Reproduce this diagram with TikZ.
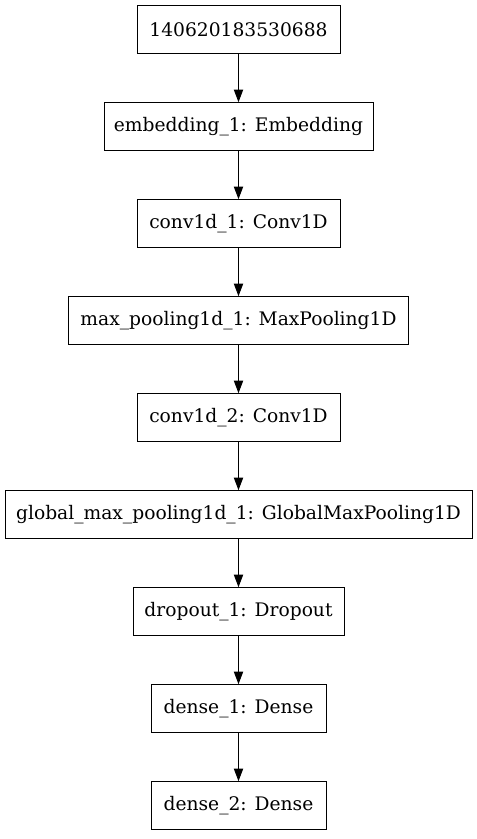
\documentclass[tikz,border=0pt]{standalone}
\usepackage{fontspec}
\setmainfont{DejaVu Serif}
\usetikzlibrary{arrows.meta}
\tikzset{
	layer/.style={draw, line width=0.75pt, minimum height=36pt, inner sep=0pt, font=\fontsize{14pt}{16pt}\selectfont},
	flow/.style={line width=0.75pt, -{Triangle[length=9.5pt,width=7pt]}}
}
\begin{document}
\begin{tikzpicture}[x=0.75pt,y=-0.75pt]
	% Page frame
	\useasboundingbox (0,0) rectangle (477,839);
	
	% Layers, top to bottom
	\node[layer, minimum width=152.25pt] (INPUT) at (238.5,29.7) {140620183530688};
	\node[layer, minimum width=201.75pt] (EMB) at (238.5,126.7) {embedding\_1: Embedding};
	\node[layer, minimum width=152.25pt] (CONVA) at (238.5,223.7) {conv1d\_1: Conv1D};
	\node[layer, minimum width=255pt] (POOL) at (238.5,320.7) {max\_pooling1d\_1: MaxPooling1D};
	\node[layer, minimum width=152.25pt] (CONVB) at (238.5,417.7) {conv1d\_2: Conv1D};
	\node[layer, minimum width=350.25pt] (GPOOL) at (238.5,514.7) {global\_max\_pooling1d\_1: GlobalMaxPooling1D};
	\node[layer, minimum width=158.25pt] (DROP) at (238.5,611.7) {dropout\_1: Dropout};
	\node[layer, minimum width=131.25pt] (DENSEA) at (238.5,708.7) {dense\_1: Dense};
	\node[layer, minimum width=131.25pt] (DENSEB) at (238.5,805.7) {dense\_2: Dense};
	
	% Connections
	\foreach \a/\b in {INPUT/EMB, EMB/CONVA, CONVA/POOL, POOL/CONVB, CONVB/GPOOL, GPOOL/DROP, DROP/DENSEA, DENSEA/DENSEB}
		\draw[flow] (\a) -- (\b);
\end{tikzpicture}
\end{document}
